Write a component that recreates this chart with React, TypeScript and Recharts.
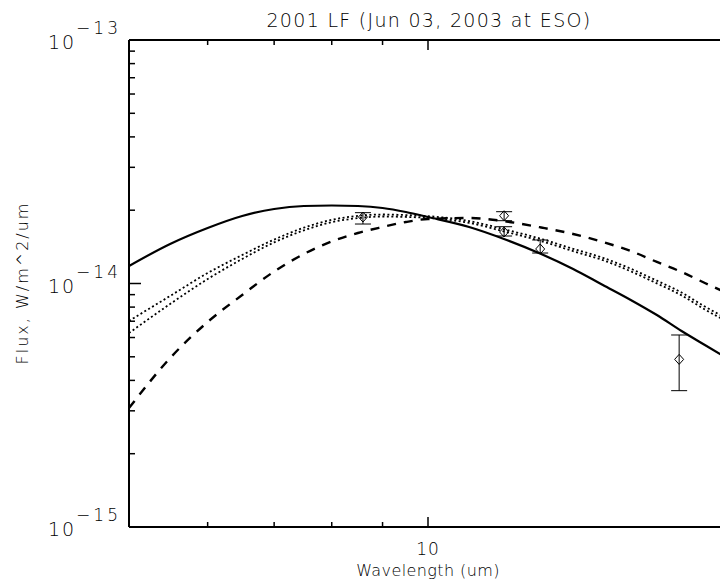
import React from 'react';
import { ComposedChart, Line, Scatter, ErrorBar, XAxis, YAxis, Label } from 'recharts';

// model curves, flux in units of 1e-14 W/m^2/um
const wavelengths = [5, 5.5, 6, 6.5, 7, 7.5, 8, 8.5, 9, 9.5, 10, 11, 12, 13, 14, 15, 16, 17, 18, 19, 20];
const solidFlux = [1.18, 1.453, 1.69, 1.893, 2.023, 2.081, 2.091, 2.081, 2.042, 1.966, 1.875, 1.706, 1.509, 1.322, 1.147, 0.986, 0.856, 0.742, 0.638, 0.559, 0.494];
const dottedUpperFlux = [0.702, 0.889, 1.104, 1.309, 1.515, 1.695, 1.826, 1.895, 1.92, 1.91, 1.89, 1.805, 1.66, 1.525, 1.388, 1.275, 1.15, 1.027, 0.918, 0.804, 0.718];
const dottedLowerFlux = [0.626, 0.824, 1.043, 1.261, 1.475, 1.653, 1.786, 1.855, 1.884, 1.876, 1.86, 1.773, 1.626, 1.493, 1.358, 1.247, 1.122, 1.001, 0.894, 0.782, 0.698];
const dashedFlux = [0.308, 0.494, 0.695, 0.897, 1.12, 1.322, 1.488, 1.612, 1.706, 1.789, 1.84, 1.858, 1.797, 1.698, 1.597, 1.48, 1.36, 1.226, 1.115, 1.005, 0.914];

// measured photometry
const obsWavelengths = [8.6, 11.93, 11.93, 12.97, 17.9];
const obsFlux = [1.875, 1.898, 1.627, 1.386, 0.488];
const obsLow = [1.755, 1.811, 1.567, 1.334, 0.363];
const obsHigh = [1.954, 1.972, 1.711, 1.509, 0.6145];

const xTicks = [6, 7, 8, 9, 10];
const yTicks = [1e-15, 2e-15, 3e-15, 4e-15, 5e-15, 6e-15, 7e-15, 8e-15, 9e-15, 1e-14, 2e-14, 3e-14, 4e-14, 5e-14, 6e-14, 7e-14, 8e-14, 9e-14, 1e-13];

const UNIT = 1e-14;
const FONT = '"DejaVu Sans", sans-serif';
const INK = '#000';
const WEIGHT = 200;

const curveData = wavelengths.map((wl, i) => ({
  wl,
  solid: solidFlux[i] * UNIT,
  dotA: dottedUpperFlux[i] * UNIT,
  dotB: dottedLowerFlux[i] * UNIT,
  dashed: dashedFlux[i] * UNIT,
}));

const pointData = obsWavelengths.map((wl, i) => ({
  wl,
  flux: obsFlux[i] * UNIT,
  err: [(obsFlux[i] - obsLow[i]) * UNIT, (obsHigh[i] - obsFlux[i]) * UNIT],
}));

const isDecade = (v: number) => Math.abs(Math.log10(v) - Math.round(Math.log10(v))) < 1e-6;

const BottomTick = ({ x, y, payload }: any) => {
  const major = isDecade(payload.value);
  return (
    <g>
      <line x1={x} x2={x} y1={y} y2={y - (major ? 10 : 5)} stroke="#000" strokeWidth={1.5} />
      {major && (
        <text x={x} y={y + 28} textAnchor="middle" fontFamily={FONT} fontWeight={WEIGHT} fontSize={17} letterSpacing={1} fill={INK}>
          {payload.value}
        </text>
      )}
    </g>
  );
};

const TopTick = ({ x, y, payload }: any) => {
  const major = isDecade(payload.value);
  return <line x1={x} x2={x} y1={y} y2={y + (major ? 10 : 5)} stroke="#000" strokeWidth={1.5} />;
};

const LeftTick = ({ x, y, payload }: any) => {
  const major = isDecade(payload.value);
  const exp = Math.round(Math.log10(payload.value));
  return (
    <g>
      <line x1={x} x2={x + (major ? 12 : 6)} y1={y} y2={y} stroke="#000" strokeWidth={1.5} />
      {major && (
        <text x={x - 8} y={y + 9} textAnchor="end" fontFamily={FONT} fontWeight={WEIGHT} fontSize={19} letterSpacing={2} fill={INK}>
          10
          <tspan dy={-15} fontSize={17} letterSpacing={3}>{'\u2212' + Math.abs(exp)}</tspan>
        </text>
      )}
    </g>
  );
};

const Diamond = ({ cx, cy }: any) => (
  <path d={`M${cx},${cy - 5} L${cx + 4.5},${cy} L${cx},${cy + 5} L${cx - 4.5},${cy} Z`} fill="none" stroke="#000" strokeWidth={1} />
);

export default function App() {
  return (
    <div style={{ position: 'absolute', left: 0, top: 0, width: 720, height: 583, overflow: 'hidden', background: '#fff' }}>
      <ComposedChart width={740} height={583} data={curveData} margin={{ top: 0, right: 13, bottom: 0, left: 0 }}>
        <XAxis
          dataKey="wl"
          type="number"
          scale="log"
          domain={[5, 20]}
          allowDataOverflow
          ticks={xTicks}
          interval={0}
          tickSize={0}
          tickMargin={0}
          height={56}
          axisLine={{ stroke: '#000', strokeWidth: 2 }}
          tickLine={false}
          tick={<BottomTick />}
        >
          <Label
            content={() => (
              <text x={428} y={576} textAnchor="middle" fontFamily={FONT} fontWeight={WEIGHT} fontSize={16} letterSpacing={0.4} fill={INK}>
                Wavelength (um)
              </text>
            )}
          />
        </XAxis>
        <XAxis
          xAxisId="top"
          orientation="top"
          dataKey="wl"
          type="number"
          scale="log"
          domain={[5, 20]}
          allowDataOverflow
          ticks={xTicks}
          interval={0}
          tickSize={0}
          tickMargin={0}
          height={40}
          axisLine={{ stroke: '#000', strokeWidth: 2 }}
          tickLine={false}
          tick={<TopTick />}
        >
          <Label
            content={() => (
              <text x={429} y={27} textAnchor="middle" fontFamily={FONT} fontWeight={WEIGHT} fontSize={19} letterSpacing={1.3} fill={INK}>
                2001 LF (Jun 03, 2003 at ESO)
              </text>
            )}
          />
        </XAxis>
        <YAxis
          type="number"
          scale="log"
          domain={[1e-15, 1e-13]}
          allowDataOverflow
          ticks={yTicks}
          interval={0}
          tickSize={0}
          tickMargin={0}
          width={129}
          axisLine={{ stroke: '#000', strokeWidth: 2 }}
          tickLine={false}
          tick={<LeftTick />}
        >
          <Label
            content={() => (
              <text x={28} y={283} transform="rotate(-90, 28, 283)" textAnchor="middle" fontFamily={FONT} fontWeight={WEIGHT} fontSize={16} letterSpacing={2} fill={INK}>
                Flux, W/m^2/um
              </text>
            )}
          />
        </YAxis>
        <Line type="monotone" dataKey="solid" stroke="#000" strokeWidth={2.2} dot={false} isAnimationActive={false} />
        <Line type="monotone" dataKey="dotA" stroke="#000" strokeWidth={1.8} strokeDasharray="2 2.5" dot={false} isAnimationActive={false} />
        <Line type="monotone" dataKey="dotB" stroke="#000" strokeWidth={1.8} strokeDasharray="2 2.5" dot={false} isAnimationActive={false} />
        <Line type="monotone" dataKey="dashed" stroke="#000" strokeWidth={2.4} strokeDasharray="9 8" dot={false} isAnimationActive={false} />
        <Scatter data={pointData} dataKey="flux" shape={<Diamond />} isAnimationActive={false}>
          <ErrorBar dataKey="err" direction="y" width={8} stroke="#000" strokeWidth={1} isAnimationActive={false} />
        </Scatter>
      </ComposedChart>
    </div>
  );
}
